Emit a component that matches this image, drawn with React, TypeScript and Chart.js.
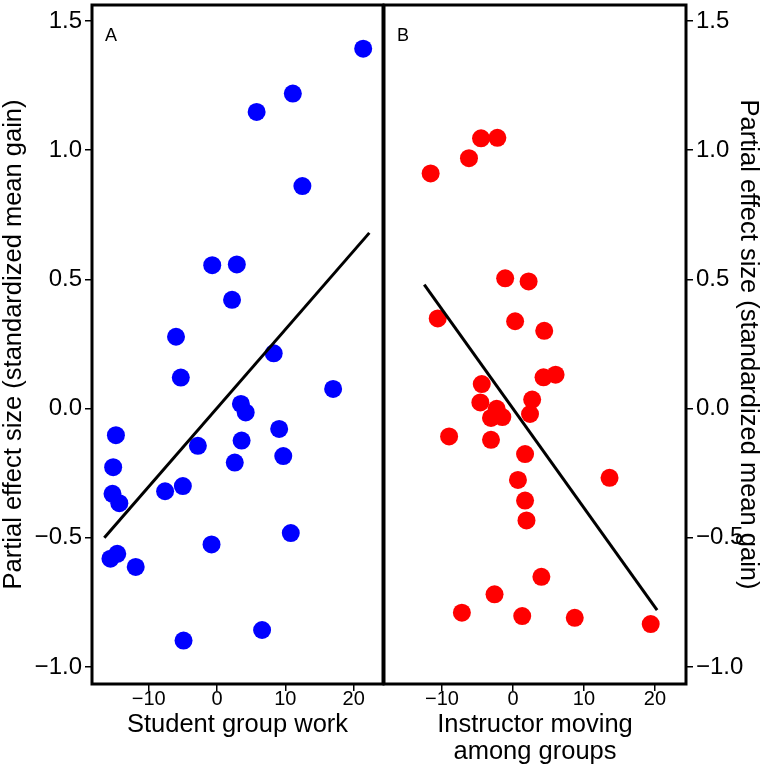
import React, { useEffect, useRef } from "react";
import { Chart, registerables } from "chart.js";
Chart.register(...registerables);

const FONT = "'Liberation Sans', Arial, Helvetica, sans-serif";

// Panel A: Student group work
const groupWorkX = [21.4, 11.1, 5.8, 12.5, -0.7, 2.9, 2.2, -6.0, 8.3, -5.3, 17.0, 3.5, 4.2, 9.1, -14.8, -2.8, 3.6, 9.7, 2.6, -15.2, -5.0, -7.6, -15.3, -14.3, 10.8, -0.8, -14.6, -15.6, -11.9, 6.6, -4.9];
const groupWorkY = [1.393, 1.219, 1.148, 0.861, 0.555, 0.558, 0.421, 0.278, 0.214, 0.12, 0.076, 0.018, -0.015, -0.079, -0.103, -0.144, -0.124, -0.184, -0.209, -0.227, -0.3, -0.32, -0.33, -0.366, -0.482, -0.526, -0.562, -0.581, -0.613, -0.857, -0.898];
const fitAX = [-16.5, 22.3];
const fitAY = [-0.5, 0.68];

// Panel B: Instructor moving among groups
const movingX = [-11.6, -6.2, -4.5, -2.2, -1.1, 2.2, -10.6, 0.3, 4.4, 4.3, 6.0, -4.4, -4.6, 2.7, -2.3, -3.1, -1.5, 2.4, -9.0, -3.1, 1.7, 13.6, 0.7, 1.7, 1.9, 4.0, -2.6, -7.2, 1.3, 8.7, 19.4];
const movingY = [0.91, 0.969, 1.046, 1.048, 0.504, 0.492, 0.349, 0.338, 0.301, 0.121, 0.131, 0.095, 0.024, 0.035, -0.001, -0.036, -0.033, -0.021, -0.108, -0.121, -0.176, -0.268, -0.276, -0.356, -0.433, -0.651, -0.719, -0.79, -0.803, -0.81, -0.834];
const fitBX = [-12.5, 20.3];
const fitBY = [0.48, -0.78];

const xTickValues = [-10, 0, 10, 20];
const yTickValues = [-1.0, -0.5, 0, 0.5, 1.0, 1.5];
const yTitle = "Partial effect size (standardized mean gain)";
const xTitleA = "Student group work";
const xTitleB = ["Instructor moving", "among groups"];

const fmt = (v: number, d: number) => v.toFixed(d).replace("-", "\u2212");

function framePlugin(label: string) {
  return {
    id: "frame" + label,
    afterDraw(chart: any) {
      const { ctx, chartArea: a } = chart;
      ctx.save();
      ctx.strokeStyle = "#000";
      ctx.lineWidth = 3;
      ctx.strokeRect(a.left, a.top, a.right - a.left, a.bottom - a.top);
      ctx.fillStyle = "#000";
      ctx.font = `18px ${FONT}`;
      ctx.textBaseline = "middle";
      ctx.textAlign = "left";
      ctx.fillText(label, a.left + 13, a.top + 31);
      ctx.restore();
    },
  };
}

function makeConfig(opts: {
  xs: number[]; ys: number[]; fx: number[]; fy: number[]; color: string;
  xmin: number; xmax: number; xTitle: string | string[]; yPos: "left" | "right";
  label: string; padding: any; yWidth: number; yTitlePad: number;
}) {
  const gridOpts = { drawOnChartArea: false, drawTicks: true, tickLength: 7, color: "#000", lineWidth: 1.5 };
  return {
    type: "scatter" as const,
    data: {
      datasets: [
        {
          data: opts.fx.map((x, i) => ({ x, y: opts.fy[i] })),
          showLine: true,
          borderColor: "#000",
          borderWidth: 3,
          pointRadius: 0,
          fill: false,
        },
        {
          data: opts.xs.map((x, i) => ({ x, y: opts.ys[i] })),
          backgroundColor: opts.color,
          borderWidth: 0,
          pointRadius: 9,
          pointHoverRadius: 9,
        },
      ],
    },
    options: {
      responsive: false,
      animation: false,
      layout: { padding: opts.padding, autoPadding: false },
      plugins: { legend: { display: false }, tooltip: { enabled: false } },
      scales: {
        x: {
          type: "linear",
          position: "bottom",
          min: opts.xmin,
          max: opts.xmax,
          afterBuildTicks: (s: any) => { s.ticks = xTickValues.map((value) => ({ value })); },
          afterFit: (s: any) => { s.height = 85; s.paddingLeft = 0; s.paddingRight = 0; },
          grid: gridOpts,
          border: { display: false },
          ticks: { font: { size: 20, family: FONT }, color: "#000", padding: -3.5, maxRotation: 0, autoSkip: false, callback: (v: any) => fmt(Number(v), 0) },
          title: { display: true, text: opts.xTitle, color: "#000", font: { size: 25.5, family: FONT, lineHeight: 1.06 }, padding: { top: 0, bottom: Array.isArray(opts.xTitle) ? 3.5 : 30.5 } },
        },
        y: {
          type: "linear",
          position: opts.yPos,
          min: -1.066,
          max: 1.562,
          afterBuildTicks: (s: any) => { s.ticks = yTickValues.map((value) => ({ value })); },
          afterFit: (s: any) => { s.width = opts.yWidth; s.paddingTop = 0; s.paddingBottom = 0; },
          grid: gridOpts,
          border: { display: false },
          ticks: { font: { size: 24, family: FONT }, color: "#000", padding: 3, autoSkip: false, callback: (v: any) => fmt(Number(v), 1) },
          title: { display: true, text: yTitle, color: "#000", font: { size: 25.5, family: FONT, lineHeight: 1.2 }, padding: { top: opts.yTitlePad, bottom: 0 } },
        },
      },
    },
    plugins: [framePlugin(opts.label)],
  };
}

function Panel(props: { cfg: any; left: number; width: number }) {
  const ref = useRef<HTMLCanvasElement | null>(null);
  useEffect(() => {
    if (!ref.current) return;
    const chart = new Chart(ref.current, props.cfg);
    return () => chart.destroy();
  }, []);
  return (
    <canvas
      ref={ref}
      width={props.width}
      height={769}
      style={{ position: "absolute", left: props.left, top: 0, width: props.width, height: 769 }}
    />
  );
}

export default function App() {
  const cfgA = makeConfig({
    xs: groupWorkX, ys: groupWorkY, fx: fitAX, fy: fitAY, color: "#0000ff",
    xmin: -18.3, xmax: 24.3, xTitle: xTitleA, yPos: "left", label: "A",
    padding: { left: 0, top: 5, right: 2, bottom: 0 }, yWidth: 92, yTitlePad: -1.3,
  });
  const cfgB = makeConfig({
    xs: movingX, ys: movingY, fx: fitBX, fy: fitBY, color: "#ff0000",
    xmin: -18.17, xmax: 24.37, xTitle: xTitleB, yPos: "right", label: "B",
    padding: { left: 4, top: 5, right: 0, bottom: 0 }, yWidth: 84, yTitlePad: 6.7,
  });
  return (
    <div style={{ position: "absolute", left: 0, top: 0, width: 770, height: 769, background: "#fff" }}>
      <Panel cfg={cfgA} left={0} width={385} />
      <Panel cfg={cfgB} left={380} width={390} />
    </div>
  );
}
